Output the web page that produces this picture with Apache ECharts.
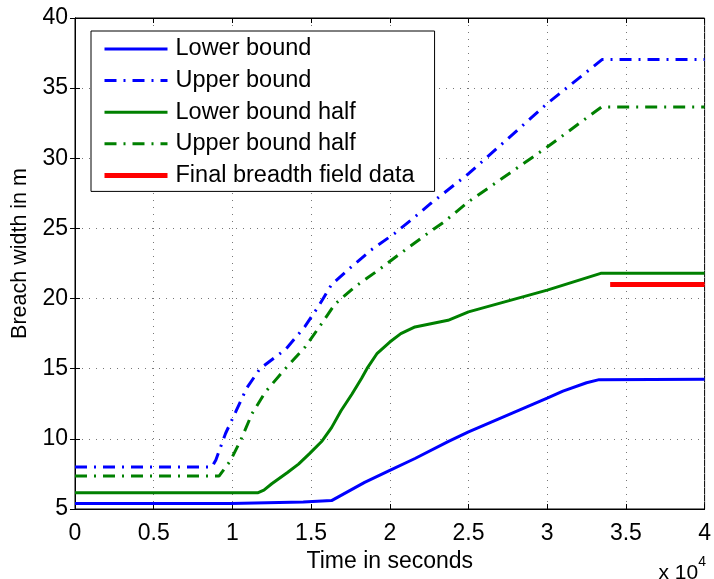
<!DOCTYPE html>
<html>
<head>
<meta charset="utf-8">
<script src="https://cdn.jsdelivr.net/npm/echarts@6/dist/echarts.min.js"></script>
<style>html,body{margin:0;padding:0;background:#fff}#c{width:714px;height:579px}</style>
</head>
<body>
<div id="c"></div>
<script>
var seriesNames = ['Lower bound', 'Upper bound', 'Lower bound half', 'Upper bound half', 'Final breadth field data'];
var xTicks = [0, 0.5, 1, 1.5, 2, 2.5, 3, 3.5, 4];
var yTicks = [5, 10, 15, 20, 25, 30, 35, 40];

var lowerBound = [[0,5.4],[9900,5.4],[10000,5.5],[14500,5.5],[14600,5.6],[16300,5.6],[18400,6.9],[20000,7.75],[21600,8.6],[23700,9.8],[25000,10.5],[30000,12.9],[31000,13.4],[32500,14.0],[33300,14.22],[40000,14.25]];
var upperBound = [[0,8.0],[8700,8.0],[8950,8.5],[9570,10.4],[10200,11.9],[10900,13.6],[11750,15.0],[13400,16.4],[14600,18.0],[15500,19.5],[16300,21.0],[17600,22.3],[18800,23.45],[20300,24.64],[21600,25.83],[22600,26.78],[25000,28.9],[30000,33.9],[33500,37.05],[40000,37.05]];
var lowerBoundHalf = [[0,6.15],[11600,6.15],[12000,6.35],[12500,6.8],[13500,7.6],[14200,8.2],[14900,8.95],[15700,9.85],[16300,10.8],[16900,12.0],[17600,13.2],[18200,14.3],[18600,15.1],[19200,16.1],[20000,16.9],[20700,17.5],[21600,17.98],[23700,18.45],[25000,19.05],[30000,20.6],[33400,21.8],[40000,21.8]];
var upperBoundHalf = [[0,7.35],[9150,7.35],[9360,7.66],[9880,8.46],[10520,9.89],[11250,11.8],[12090,13.34],[13360,15.0],[14620,16.55],[15600,18.1],[16510,19.6],[17770,20.83],[19240,22.0],[20500,23.07],[22400,24.64],[23450,25.47],[25000,26.9],[30000,30.8],[33440,33.65],[40000,33.65]];
var finalField = [[34000,21.0],[40000,21.0]];

var FONT = 'Liberation Sans, Arial, Helvetica, sans-serif';
var dashDot = [12, 7, 2, 7];
var lineWidths = [3, 3, 3, 3, 5];

function mkLine(name, data, color, type, width) {
  return {
    name: name, type: 'line', data: data, symbol: 'none', showSymbol: false,
    lineStyle: { color: color, width: width, type: type },
    itemStyle: { color: color }, animation: false, z: 3
  };
}

var chart = echarts.init(document.getElementById('c'), null, { renderer: 'canvas' });
chart.setOption({
  backgroundColor: '#fff',
  animation: false,
  grid: { left: 75, right: 5, top: 18, bottom: 70, show: true, borderColor: '#000', borderWidth: 1, backgroundColor: '#fff' },
  legend: {
    orient: 'vertical', left: 91, top: 31,
    data: seriesNames.map(function (n, i) { return { name: n, lineStyle: { width: lineWidths[i] } }; }),
    itemWidth: 63, itemHeight: 14, itemGap: 7.6,
    padding: [6, 20, 4, 11],
    borderColor: '#000', borderWidth: 1, backgroundColor: '#fff',
    itemStyle: { opacity: 0 },
    textStyle: { fontFamily: FONT, fontSize: 23.5, color: '#000', padding: [0, 0, 0, 3] },
    selectedMode: false
  },
  xAxis: [{
    type: 'value', min: 0, max: 40000, interval: 5000,
    axisLine: { show: true, lineStyle: { color: '#000', width: 1 } },
    axisTick: { show: true, inside: true, length: 5, lineStyle: { color: '#000' } },
    axisLabel: { fontFamily: FONT, fontSize: 23, color: '#000', margin: 13,
      formatter: function (v) { return String(xTicks[Math.round(v / 5000)]); } },
    splitLine: { show: true, lineStyle: { color: '#777', type: [1, 6], width: 1 } },
    name: 'Time in seconds', nameLocation: 'middle', nameGap: 35,
    nameTextStyle: { fontFamily: FONT, fontSize: 23, color: '#000' }
  }, {
    type: 'value', position: 'top', min: 0, max: 40000, interval: 5000,
    axisLine: { show: true, lineStyle: { color: '#000' } },
    axisTick: { show: true, inside: true, length: 5, lineStyle: { color: '#000' } },
    axisLabel: { show: false }, splitLine: { show: false }
  }],
  yAxis: [{
    type: 'value', min: 5, max: 40, interval: 5,
    axisLine: { show: true, lineStyle: { color: '#000', width: 1 } },
    axisTick: { show: true, inside: true, length: 5, lineStyle: { color: '#000' } },
    axisLabel: { fontFamily: FONT, fontSize: 23, color: '#000', margin: 7,
      formatter: function (v) { return String(v); } },
    splitLine: { show: true, lineStyle: { color: '#777', type: [1, 6], width: 1 } },
    name: 'Breach width in m', nameLocation: 'middle', nameGap: 43,
    nameTextStyle: { fontFamily: FONT, fontSize: 21.5, color: '#000', padding: [0, 0, 0, 20] }
  }, {
    type: 'value', position: 'right', min: 5, max: 40, interval: 5,
    axisLine: { show: true, lineStyle: { color: '#000' } },
    axisTick: { show: true, inside: true, length: 5, lineStyle: { color: '#000' } },
    axisLabel: { show: false }, splitLine: { show: false }
  }],
  graphic: [{
    type: 'text', right: 8, top: 555,
    style: {
      text: '{a|x 10}{b|4}', fontFamily: FONT,
      rich: {
        a: { fontFamily: FONT, fontSize: 21, fill: '#000', padding: [8, 0, 0, 0] },
        b: { fontFamily: FONT, fontSize: 14, fill: '#000', verticalAlign: 'top', padding: [0, 0, 10, 0] }
      }
    }
  }],
  series: [
    mkLine(seriesNames[0], lowerBound, '#0000ff', 'solid', lineWidths[0]),
    mkLine(seriesNames[1], upperBound, '#0000ff', dashDot, lineWidths[1]),
    mkLine(seriesNames[2], lowerBoundHalf, '#008000', 'solid', lineWidths[2]),
    mkLine(seriesNames[3], upperBoundHalf, '#008000', dashDot, lineWidths[3]),
    mkLine(seriesNames[4], finalField, '#ff0000', 'solid', lineWidths[4])
  ]
});
</script>
</body>
</html>
